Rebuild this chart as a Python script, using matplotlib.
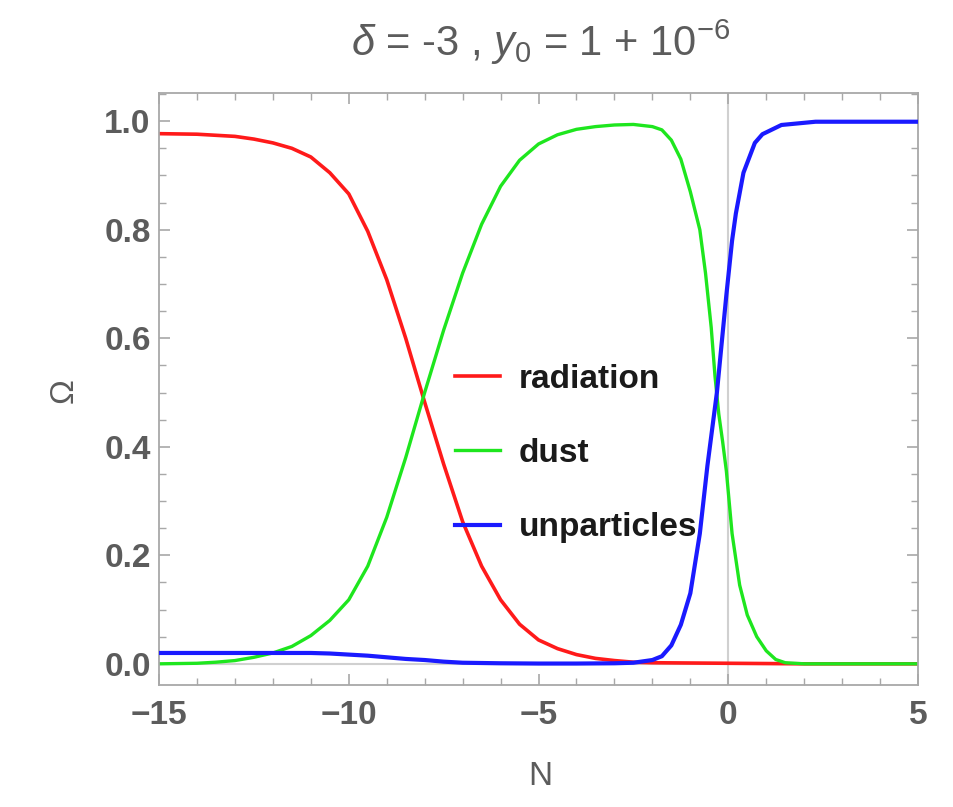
import numpy as np
import matplotlib.pyplot as plt
from matplotlib.ticker import MultipleLocator

plt.rcParams['font.family'] = ['Liberation Sans', 'DejaVu Sans']
plt.rcParams['mathtext.fontset'] = 'custom'
plt.rcParams['mathtext.rm'] = 'Liberation Sans'
plt.rcParams['mathtext.it'] = 'Liberation Sans:italic'

# density parameters vs e-folding number N
n_rad = [-15, -14, -13, -12.5, -12, -11.5, -11, -10.5, -10, -9.5, -9, -8.5,
         -8, -7.5, -7, -6.5, -6, -5.5, -5, -4.5, -4, -3.5, -3, -2.5, -2,
         -1, 0, 1, 2, 5]
om_rad = [0.977, 0.976, 0.972, 0.967, 0.960, 0.950, 0.934, 0.905, 0.866,
          0.797, 0.708, 0.600, 0.482, 0.368, 0.262, 0.180, 0.118, 0.073,
          0.044, 0.028, 0.017, 0.010, 0.006, 0.003, 0.002, 0.0015, 0.001,
          0.0005, 0.0, 0.0]

n_dust = [-15, -14, -13.5, -13, -12.5, -12, -11.5, -11, -10.5, -10, -9.5, -9,
          -8.5, -8, -7.5, -7, -6.5, -6, -5.5, -5, -4.5, -4, -3.5, -3, -2.5,
          -2, -1.75, -1.5, -1.25, -1.0, -0.75, -0.6, -0.45, -0.35, -0.25,
          -0.15, -0.05, 0.1, 0.3, 0.5, 0.75, 1.0, 1.25, 1.5, 2, 5]
om_dust = [0.0, 0.001, 0.003, 0.006, 0.012, 0.020, 0.032, 0.052, 0.080, 0.118,
           0.180, 0.270, 0.380, 0.500, 0.615, 0.720, 0.810, 0.880, 0.928,
           0.958, 0.975, 0.985, 0.990, 0.993, 0.994, 0.990, 0.984, 0.965,
           0.930, 0.870, 0.800, 0.720, 0.620, 0.530, 0.460, 0.410, 0.355,
           0.240, 0.145, 0.090, 0.050, 0.024, 0.008, 0.002, 0.0, 0.0]

n_unp = [-15, -14, -13, -12, -11, -10.5, -10, -9.5, -9, -8.5, -8, -7.5, -7,
         -6, -5, -4, -3, -2.5, -2.0, -1.75, -1.5, -1.25, -1.0, -0.75, -0.55,
         -0.3, -0.05, 0.1, 0.2, 0.4, 0.7, 0.9, 1.4, 2.3, 5]
om_unp = [0.020, 0.020, 0.020, 0.020, 0.020, 0.019, 0.017, 0.015, 0.012,
          0.009, 0.007, 0.004, 0.002, 0.001, 0.0005, 0.0005, 0.001, 0.002,
          0.007, 0.014, 0.034, 0.072, 0.130, 0.240, 0.365, 0.500, 0.680,
          0.780, 0.830, 0.905, 0.960, 0.976, 0.993, 0.999, 0.999]

x_ticks = [-15, -10, -5, 0, 5]
x_labels = ['\u221215', '\u221210', '\u22125', '0', '5']
y_ticks = [0.0, 0.2, 0.4, 0.6, 0.8, 1.0]
y_labels = ['0.0', '0.2', '0.4', '0.6', '0.8', '1.0']

grey = '#5c5c5c'
frame = '#a8a8a8'

fig = plt.figure(figsize=(9.54, 8.07), dpi=100)
ax = fig.add_axes([0.1667, 0.1512, 0.7956, 0.7336])

ax.axhline(0, color='#d0d0d0', lw=1.5, zorder=0)
ax.axvline(0, color='#d0d0d0', lw=1.5, zorder=0)

ax.plot(n_rad, om_rad, color='#ff1a1a', lw=2.6, label='radiation', zorder=1)
ax.plot(n_dust, om_dust, color='#1ee61e', lw=2.4, label='dust', zorder=2)
ax.plot(n_unp, om_unp, color='#1a1aff', lw=3.0, label='unparticles', zorder=3)

ax.set_xlim(-15, 5)
ax.set_ylim(-0.039, 1.052)
ax.set_xticks(x_ticks)
ax.set_xticklabels(x_labels)
ax.set_yticks(y_ticks)
ax.set_yticklabels(y_labels)
ax.xaxis.set_minor_locator(MultipleLocator(1))
ax.yaxis.set_minor_locator(MultipleLocator(0.05))

ax.tick_params(which='both', direction='in', top=True, right=True,
               color=frame, labelcolor=grey, labelsize=24)
ax.tick_params(which='major', length=8, width=1.2)
ax.tick_params(which='minor', length=5, width=1.0)
ax.tick_params(axis='x', pad=11)
ax.tick_params(axis='y', pad=6)
for lbl in ax.get_xticklabels() + ax.get_yticklabels():
    lbl.set_fontweight('bold')
for sp in ax.spines.values():
    sp.set_color(frame)
    sp.set_linewidth(1.3)

ax.set_xlabel('N', fontsize=24, color=grey)
ax.set_ylabel('\u03a9', fontsize=24, color=grey)
ax.xaxis.set_label_coords(0.502, -0.128)
ax.yaxis.set_label_coords(-0.104, 0.498)

fig.text(0.567, 0.948, r'$\delta$ = -3 , $y_0$ = 1 + 10$^{-6}$',
         ha='center', va='center', fontsize=30, color=grey)

leg = ax.legend(loc='upper left', bbox_to_anchor=(0.39, 0.543), frameon=False,
                fontsize=24, handlelength=1.35, handletextpad=0.55,
                labelspacing=1.3, borderpad=0, borderaxespad=0)
for t in leg.get_texts():
    t.set_fontweight('bold')
    t.set_color('#1a1a1a')

fig.savefig('out.png', dpi=100)
